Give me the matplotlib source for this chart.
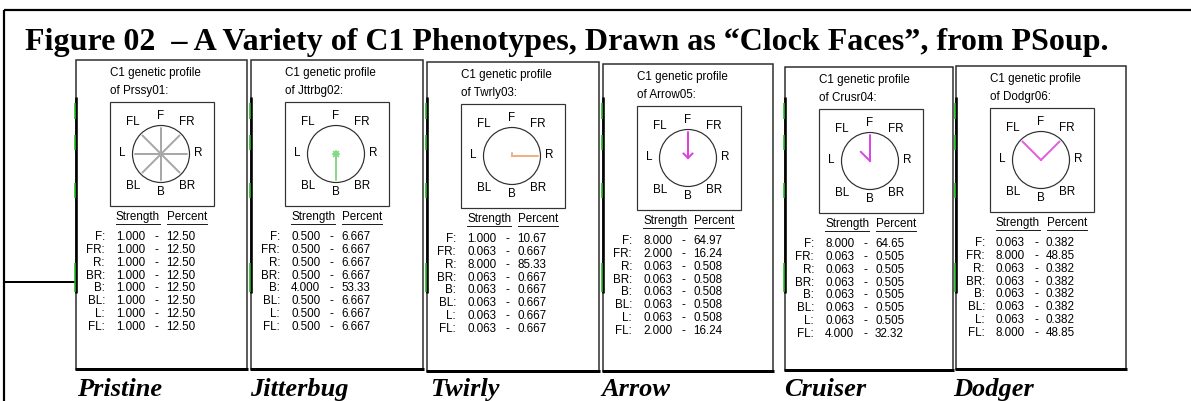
import numpy as np
import matplotlib
matplotlib.use("Agg")
import matplotlib.pyplot as plt
from matplotlib.patches import Circle, Rectangle

# directions around the clock face
directions = ["F", "FR", "R", "BR", "B", "BL", "L", "FL"]
angles_deg = [90, 45, 0, -45, -90, -135, 180, 135]

names = ["Prssy01", "Jttrbg02", "Twrly03", "Arrow05", "Crusr04", "Dodgr06"]
labels = ["Pristine", "Jitterbug", "Twirly", "Arrow", "Cruiser", "Dodger"]
hand_colors = ["#a8a8a8", "#86da86", "#f0b080", "#e040e0", "#d848e8", "#e060e0"]

# strength per direction (F, FR, R, BR, B, BL, L, FL)
pristine_str = [1.0, 1.0, 1.0, 1.0, 1.0, 1.0, 1.0, 1.0]
jitterbug_str = [0.5, 0.5, 0.5, 0.5, 4.0, 0.5, 0.5, 0.5]
twirly_str = [1.0, 0.0625, 8.0, 0.0625, 0.0625, 0.0625, 0.0625, 0.0625]
arrow_str = [8.0, 2.0, 0.0625, 0.0625, 0.0625, 0.0625, 0.0625, 2.0]
cruiser_str = [8.0, 0.0625, 0.0625, 0.0625, 0.0625, 0.0625, 0.0625, 4.0]
dodger_str = [0.0625, 8.0, 0.0625, 0.0625, 0.0625, 0.0625, 0.0625, 8.0]

# percent per direction
pristine_pct = [12.50, 12.50, 12.50, 12.50, 12.50, 12.50, 12.50, 12.50]
jitterbug_pct = [6.667, 6.667, 6.667, 6.667, 53.33, 6.667, 6.667, 6.667]
twirly_pct = [10.67, 0.667, 85.33, 0.667, 0.667, 0.667, 0.667, 0.667]
arrow_pct = [64.97, 16.24, 0.508, 0.508, 0.508, 0.508, 0.508, 16.24]
cruiser_pct = [64.65, 0.505, 0.505, 0.505, 0.505, 0.505, 0.505, 32.32]
dodger_pct = [0.382, 48.85, 0.382, 0.382, 0.382, 0.382, 0.382, 48.85]

strengths = [pristine_str, jitterbug_str, twirly_str, arrow_str, cruiser_str, dodger_str]
percents = [pristine_pct, jitterbug_pct, twirly_pct, arrow_pct, cruiser_pct, dodger_pct]

# panel frames in pixels: left, right, top, bottom
lefts = [76, 251, 427, 603, 785, 956]
rights = [247, 423, 599, 773, 953, 1126]
tops = [61, 61, 63, 65, 68, 67]
bottoms = [370, 370, 372, 372, 371, 370]
label_x = [77, 250, 430, 601, 784, 953]

W, H = 1191, 402
fig = plt.figure(figsize=(W / 100, H / 100), dpi=100)
ax = fig.add_axes([0, 0, 1, 1])
ax.set_xlim(0, W)
ax.set_ylim(H, 0)
ax.axis("off")

px = 0.72  # one pixel in points
sans = "Liberation Sans"
serif = "Liberation Serif"
tc = "#000000"
fs = 8.4

# outer frame bits
ax.plot([4, W], [11, 11], color="black", lw=2.2 * px, solid_capstyle="butt")
ax.plot([4, 4], [11, H], color="black", lw=2.2 * px, solid_capstyle="butt")
ax.plot([4, 76], [283, 283], color="black", lw=2 * px, solid_capstyle="butt")

ax.text(25, 50, "Figure 02  \u2013 A Variety of C1 Phenotypes, Drawn as \u201cClock Faces\u201d, from PSoup.",
        fontfamily=serif, fontweight="bold", fontsize=23, ha="left", va="baseline", color="black")


def fmt_str(v):
    return "%.3f" % (v + 1e-9)


def fmt_pct(v):
    return "%.2f" % v if v >= 10 else "%.3f" % v


for k in range(len(names)):
    x0, x1, y0, y1 = lefts[k], rights[k], tops[k], bottoms[k]
    # panel box
    ax.add_patch(Rectangle((x0, y0), x1 - x0, y1 - y0, fill=False, ec="#2a2a2a", lw=1.5 * px))
    ax.plot([x0 - 1, x1 + 1], [y1, y1], color="black", lw=3 * px, solid_capstyle="butt")
    ax.plot([x0, x0], [98, 294], color="black", lw=2.6 * px, solid_capstyle="butt")
    for g0, g1 in [(104, 120), (136, 151), (184, 199), (264, 293)]:
        ax.plot([x0 - 0.6, x0 - 0.6], [g0, g1], color="#22b822", lw=1.6 * px, solid_capstyle="butt")

    ax.text(x0 + 34, y0 + 12, "C1 genetic profile", fontfamily=sans, fontsize=fs, color=tc,
            ha="left", va="center")
    ax.text(x0 + 34, y0 + 30, "of %s:" % names[k], fontfamily=sans, fontsize=fs, color=tc,
            ha="left", va="center")

    # inner square and clock face
    ax.add_patch(Rectangle((x0 + 34, y0 + 42), 104, 104, fill=False, ec="#333333", lw=1.2 * px))
    cx, cy, r = x0 + 85, y0 + 94, 28.5
    ax.add_patch(Circle((cx, cy), r, fill=False, ec="#303030", lw=1.2 * px))
    offsets = [(0, -39), (26, -33), (37, -2), (26, 31), (0, 37), (-28, 31), (-39, -2), (-28, -33)]
    for d, (dx, dy) in zip(directions, offsets):
        ax.text(cx + dx, cy + dy, d, fontfamily=sans, fontsize=fs, color=tc, ha="center", va="center")

    s = np.array(strengths[k])
    lengths = s / s.max() * 0.92 * r
    for a, L in zip(angles_deg, lengths):
        t = np.deg2rad(a)
        ax.plot([cx, cx + L * np.cos(t)], [cy, cy - L * np.sin(t)], color=hand_colors[k],
                lw=2 * px, solid_capstyle="round")

    # table
    hy = y0 + 156
    ax.text(x0 + 40, hy, "Strength", fontfamily=sans, fontsize=fs, color=tc, ha="left", va="center")
    ax.text(x0 + 91, hy, "Percent", fontfamily=sans, fontsize=fs, color=tc, ha="left", va="center")
    ax.plot([x0 + 40, x0 + 84], [hy + 8, hy + 8], color="#202020", lw=1 * px)
    ax.plot([x0 + 91, x0 + 131], [hy + 8, hy + 8], color="#202020", lw=1 * px)
    for i, d in enumerate(directions):
        ry = y0 + 176 + i * 12.86
        ax.text(x0 + 29, ry, d + ":", fontfamily=sans, fontsize=fs, color=tc, ha="right", va="center")
        ax.text(x0 + 40, ry, fmt_str(strengths[k][i]), fontfamily=sans, fontsize=fs, color=tc,
                ha="left", va="center")
        ax.text(x0 + 80, ry, "-", fontfamily=sans, fontsize=fs, color=tc, ha="center", va="center")
        ax.text(x0 + 90, ry, fmt_pct(percents[k][i]), fontfamily=sans, fontsize=fs, color=tc,
                ha="left", va="center")

    ax.text(label_x[k], 396, labels[k], fontfamily=serif, fontweight="bold", fontstyle="italic",
            fontsize=19, ha="left", va="baseline", color="black")

fig.savefig("out.png", dpi=100)
